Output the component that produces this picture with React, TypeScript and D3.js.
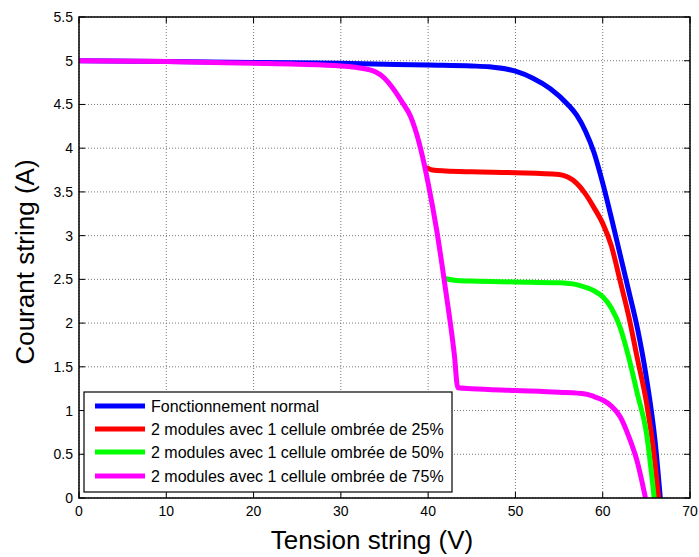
import React from "react";
import * as d3 from "d3";

const normalV = [0, 10, 20, 30, 40, 45, 47, 50, 52, 54, 56, 57, 58, 59, 60, 61, 62, 63, 64, 65, 66, 66.6];
const normalI = [5.0, 4.99, 4.98, 4.97, 4.95, 4.94, 4.93, 4.88, 4.8, 4.68, 4.5, 4.38, 4.2, 3.95, 3.6, 3.2, 2.78, 2.36, 1.93, 1.38, 0.65, 0];

const s25V = [39.8, 40.5, 42, 45, 50, 55, 56, 57, 58, 59, 60, 61, 62, 63, 64, 65, 66, 66.4];
const s25I = [3.78, 3.75, 3.74, 3.73, 3.72, 3.7, 3.67, 3.6, 3.48, 3.32, 3.14, 2.88, 2.48, 2.07, 1.58, 1.1, 0.4, 0];

const s50V = [41.9, 43, 45, 50, 55, 57, 58, 59, 60, 61, 62, 63, 64, 65, 65.9];
const s50I = [2.51, 2.49, 2.48, 2.47, 2.46, 2.44, 2.41, 2.37, 2.3, 2.17, 1.95, 1.6, 1.18, 0.75, 0];

const s75V = [0, 10, 20, 25, 30, 32, 34, 35, 36, 37, 38, 39, 40, 41, 42, 43, 43.4, 45, 50, 55, 58, 59, 60, 61, 62, 63, 64, 64.9];
const s75I = [5.0, 4.99, 4.97, 4.96, 4.94, 4.92, 4.87, 4.8, 4.68, 4.53, 4.36, 4.05, 3.6, 3.05, 2.38, 1.64, 1.26, 1.25, 1.23, 1.21, 1.19, 1.16, 1.12, 1.05, 0.93, 0.7, 0.4, 0];

const xTicks = [0, 10, 20, 30, 40, 50, 60, 70];
const yTicks = [0, 0.5, 1, 1.5, 2, 2.5, 3, 3.5, 4, 4.5, 5, 5.5];

const seriesNames = [
  "Fonctionnement normal",
  "2 modules avec 1 cellule ombrée de 25%",
  "2 modules avec 1 cellule ombrée de 50%",
  "2 modules avec 1 cellule ombrée de 75%",
];
const seriesColors = ["#0000ff", "#ff0000", "#00ff00", "#ff00ff"];

const L = 79, R = 690, T = 17, B = 498;

export default function App() {
  const x = d3.scaleLinear().domain([0, 70]).range([L, R]);
  const y = d3.scaleLinear().domain([0, 5.5]).range([B, T]);
  const line = d3
    .line<[number, number]>()
    .x((d) => x(d[0]))
    .y((d) => y(d[1]))
    .curve(d3.curveMonotoneX);
  const series = [
    [normalV, normalI],
    [s25V, s25I],
    [s50V, s50I],
    [s75V, s75I],
  ].map(([vs, is]) => vs.map((v, k) => [v, is[k]] as [number, number]));

  const font = "'Liberation Sans', Arial, Helvetica, sans-serif";
  const legX = 84, legY = 392, legW = 368, legH = 100;
  const legRows = [406, 429, 452, 476];

  return (
    <svg width={699} height={557} style={{ position: "absolute", left: 0, top: 0, background: "#fff" }}>
      <rect x={0} y={0} width={699} height={557} fill="#fff" />
      {xTicks.map((t) => (
        <line key={"gx" + t} x1={x(t)} x2={x(t)} y1={T} y2={B} stroke="#555" strokeWidth={0.8} strokeDasharray="1,2" />
      ))}
      {yTicks.map((t) => (
        <line key={"gy" + t} x1={L} x2={R} y1={y(t)} y2={y(t)} stroke="#555" strokeWidth={0.8} strokeDasharray="1,2" />
      ))}
      {xTicks.map((t) => (
        <g key={"tx" + t}>
          <line x1={x(t)} x2={x(t)} y1={B} y2={B - 6} stroke="#000" />
          <line x1={x(t)} x2={x(t)} y1={T} y2={T + 6} stroke="#000" />
          <text x={x(t)} y={B + 18} textAnchor="middle" fontSize={14} fontFamily={font}>{t}</text>
        </g>
      ))}
      {yTicks.map((t) => (
        <g key={"ty" + t}>
          <line x1={L} x2={L + 6} y1={y(t)} y2={y(t)} stroke="#000" />
          <line x1={R} x2={R - 6} y1={y(t)} y2={y(t)} stroke="#000" />
          <text x={L - 6} y={y(t) + 5} textAnchor="end" fontSize={14} fontFamily={font}>{t}</text>
        </g>
      ))}
      <defs>
        <clipPath id="clip">
          <rect x={L} y={T} width={R - L} height={B - T} />
        </clipPath>
      </defs>
      <g clipPath="url(#clip)">
        {series.map((pts, k) => (
          <path key={k} d={line(pts) || ""} fill="none" stroke={seriesColors[k]} strokeWidth={5} strokeLinejoin="round" />
        ))}
      </g>
      <rect x={L} y={T} width={R - L} height={B - T} fill="none" stroke="#000" strokeWidth={1.5} />
      <rect x={legX} y={legY} width={legW} height={legH} fill="#fff" stroke="#000" strokeWidth={1.2} />
      {seriesNames.map((n, k) => (
        <g key={"l" + k}>
          <line x1={95} x2={145} y1={legRows[k]} y2={legRows[k]} stroke={seriesColors[k]} strokeWidth={5} />
          <text x={151} y={legRows[k] + 6} fontSize={16} fontFamily={font}>{n}</text>
        </g>
      ))}
      <text x={372} y={549} textAnchor="middle" fontSize={26} fontFamily={font}>Tension string (V)</text>
      <text transform={`translate(34, 262) rotate(-90)`} textAnchor="middle" fontSize={26} fontFamily={font}>Courant string (A)</text>
    </svg>
  );
}
